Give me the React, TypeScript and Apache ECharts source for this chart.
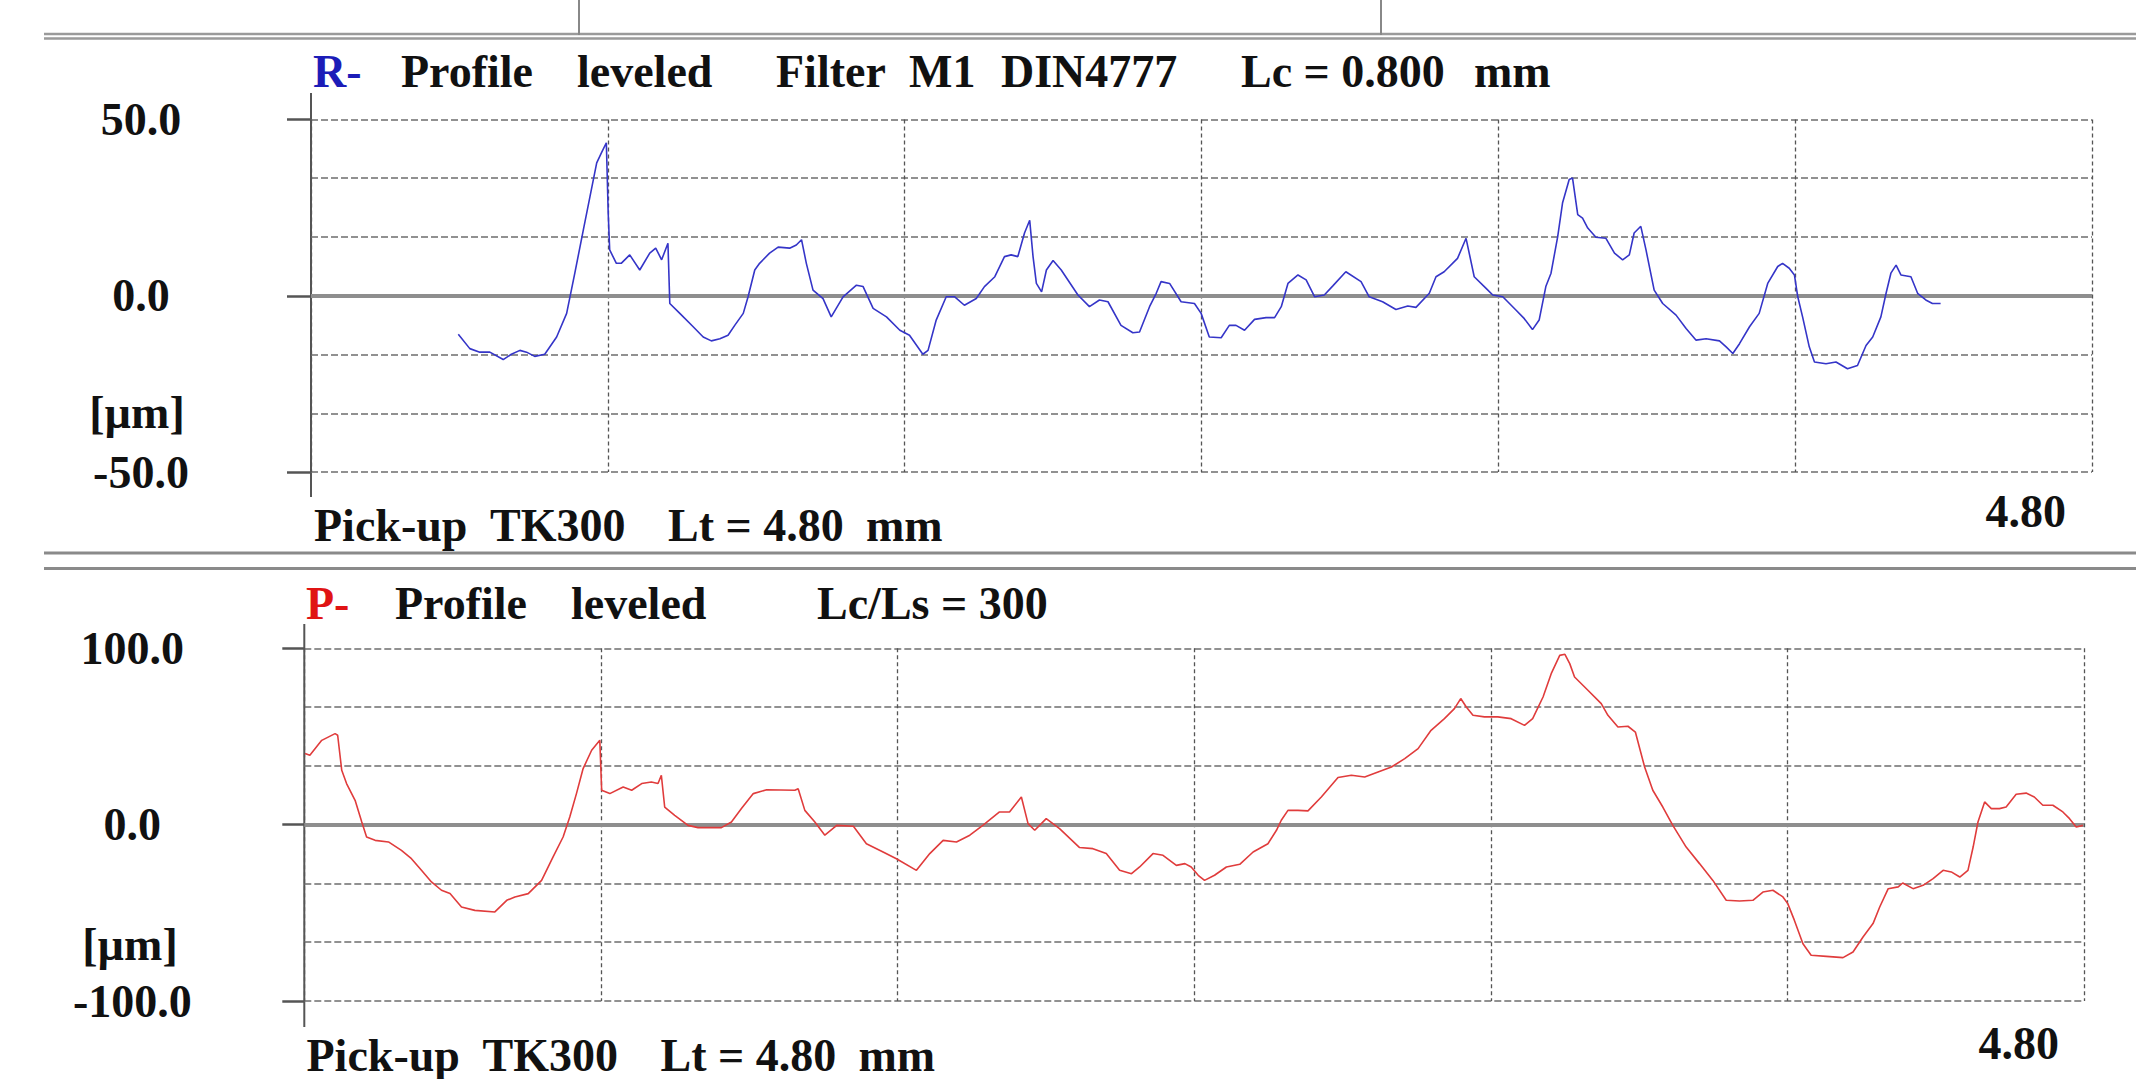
import React, { useEffect, useRef } from "react";
import * as echarts from "echarts";

// R-profile (roughness), x in mm, y in µm
const rX = [0.397,0.428,0.455,0.482,0.518,0.540,0.563,0.581,0.603,0.630,0.662,0.689,0.711,0.734,0.752,0.770,0.783,0.796,0.801,0.805,0.823,0.836,0.859,0.886,0.913,0.929,0.945,0.962,0.967,0.994,1.030,1.057,1.079,1.102,1.124,1.142,1.165,1.178,1.196,1.209,1.236,1.259,1.290,1.308,1.322,1.335,1.353,1.380,1.402,1.434,1.470,1.488,1.515,1.551,1.587,1.613,1.649,1.663,1.685,1.712,1.735,1.761,1.793,1.815,1.843,1.869,1.887,1.905,1.923,1.937,1.946,1.955,1.969,1.982,2.000,2.022,2.067,2.098,2.125,2.148,2.183,2.215,2.233,2.260,2.278,2.291,2.314,2.345,2.381,2.399,2.421,2.453,2.475,2.493,2.516,2.543,2.574,2.597,2.615,2.633,2.660,2.682,2.705,2.731,2.754,2.789,2.830,2.852,2.888,2.924,2.956,2.978,3.014,3.032,3.054,3.090,3.113,3.135,3.167,3.185,3.212,3.248,3.270,3.292,3.310,3.328,3.342,3.360,3.373,3.391,3.400,3.414,3.427,3.441,3.463,3.490,3.513,3.535,3.553,3.566,3.584,3.598,3.620,3.643,3.679,3.706,3.733,3.760,3.796,3.814,3.832,3.850,3.877,3.903,3.926,3.953,3.966,3.984,3.998,4.007,4.020,4.038,4.052,4.083,4.110,4.141,4.168,4.191,4.209,4.231,4.245,4.258,4.272,4.285,4.312,4.330,4.352,4.370,4.392];
const rY = [-10.9,-15.0,-16.0,-16.0,-18.1,-16.6,-15.5,-16.0,-17.2,-16.6,-11.7,-5.0,6.4,18.7,28.2,37.7,40.6,43.4,23.5,13.0,9.2,9.2,11.6,7.3,12.1,13.5,10.2,14.9,-2.2,-5.0,-8.8,-11.7,-12.8,-12.2,-11.2,-8.4,-5.0,-0.3,7.3,9.2,12.1,13.8,13.5,14.4,15.9,9.2,1.6,-0.8,-6.0,-0.3,3.0,2.6,-3.6,-6.0,-9.8,-11.2,-16.6,-15.5,-6.9,-0.3,-0.3,-2.7,-0.8,2.6,5.4,11.1,11.6,11.1,17.8,21.4,11.1,3.5,1.1,7.3,10.0,7.3,0.2,-3.1,-1.2,-1.7,-8.4,-10.5,-10.3,-3.1,0.7,4.0,3.5,-1.7,-2.2,-5.0,-11.7,-11.9,-8.4,-8.4,-9.8,-6.7,-6.2,-6.2,-3.1,3.5,5.9,4.5,-0.3,0.2,2.8,6.8,4.0,-0.3,-1.7,-3.9,-2.9,-3.3,0.7,5.4,6.8,10.6,16.3,5.4,2.1,0.2,-0.3,-4.1,-6.5,-9.6,-6.9,2.6,6.4,16.8,26.3,33.0,33.4,23.0,22.0,19.2,16.6,16.3,12.1,10.2,11.6,17.8,19.7,13.0,1.6,-2.2,-5.5,-9.3,-12.6,-12.2,-12.8,-14.5,-16.4,-13.6,-8.8,-5.0,3.5,8.3,9.2,7.8,5.9,-0.3,-6.0,-14.5,-18.8,-19.3,-18.8,-20.7,-19.8,-14.1,-11.7,-6.0,0.7,6.4,8.7,5.9,5.4,0.7,-1.2,-2.2,-2.2];

// P-profile (primary), x in mm, y in µm
const pX = [0.002,0.015,0.047,0.083,0.090,0.101,0.114,0.137,0.155,0.168,0.191,0.227,0.262,0.289,0.316,0.343,0.370,0.393,0.424,0.460,0.514,0.546,0.568,0.604,0.640,0.671,0.698,0.716,0.734,0.752,0.775,0.797,0.802,0.824,0.860,0.883,0.910,0.936,0.954,0.963,0.972,0.999,1.035,1.062,1.125,1.152,1.179,1.211,1.247,1.323,1.332,1.350,1.377,1.404,1.436,1.481,1.516,1.561,1.597,1.651,1.687,1.723,1.759,1.795,1.830,1.875,1.902,1.934,1.952,1.970,2.001,2.037,2.091,2.127,2.163,2.199,2.231,2.253,2.289,2.316,2.352,2.375,2.392,2.411,2.428,2.455,2.487,2.523,2.559,2.599,2.622,2.635,2.653,2.680,2.707,2.743,2.788,2.824,2.860,2.896,2.932,2.968,3.004,3.039,3.075,3.102,3.119,3.134,3.152,3.183,3.219,3.255,3.291,3.313,3.341,3.363,3.386,3.400,3.413,3.426,3.462,3.498,3.516,3.543,3.570,3.590,3.603,3.615,3.637,3.664,3.691,3.727,3.763,3.799,3.835,3.871,3.907,3.934,3.961,3.988,4.001,4.019,4.042,4.064,4.105,4.150,4.177,4.204,4.231,4.249,4.272,4.299,4.311,4.339,4.366,4.393,4.420,4.442,4.465,4.487,4.501,4.514,4.532,4.550,4.572,4.590,4.617,4.644,4.666,4.689,4.716,4.743,4.761,4.779,4.797];
const pY = [40.3,39.3,47.8,51.6,50.7,30.8,23.3,13.8,1.5,-7.0,-8.9,-9.8,-14.6,-19.3,-25.9,-32.5,-37.2,-39.1,-46.7,-48.6,-49.5,-42.9,-41.0,-39.1,-31.6,-18.3,-7.0,4.3,17.6,31.8,42.2,47.8,19.5,17.6,21.4,19.5,23.3,24.2,23.3,28.0,10.0,5.3,-0.4,-1.7,-1.7,1.5,9.1,17.6,19.8,19.5,20.4,8.1,1.5,-6.0,-0.4,-0.9,-10.8,-15.5,-19.3,-25.9,-16.4,-8.9,-9.8,-6.0,-0.4,7.2,7.2,15.7,0.6,-3.2,3.4,-2.3,-13.0,-13.6,-16.4,-25.9,-27.8,-24.0,-16.4,-17.4,-23.1,-22.1,-24.0,-28.7,-31.6,-28.7,-24.0,-22.5,-15.5,-10.8,-3.2,2.5,8.1,8.1,7.8,15.7,26.7,28.0,27.0,29.9,32.7,37.4,43.1,53.5,60.1,65.8,71.5,66.7,62.0,61.1,61.1,60.1,56.3,60.1,72.4,85.6,96.0,96.6,91.3,83.7,76.2,68.6,62.0,55.4,55.8,52.5,42.2,32.7,19.5,10.0,-0.4,-12.7,-22.1,-31.6,-42.9,-43.3,-42.9,-38.2,-37.2,-41.0,-44.8,-54.3,-67.5,-74.1,-74.7,-75.4,-72.2,-63.7,-56.1,-46.7,-36.3,-35.3,-33.1,-36.3,-34.4,-30.6,-25.9,-26.8,-29.7,-25.9,-12.7,1.5,12.9,9.1,9.1,10.0,17.2,17.9,15.7,11.0,11.0,7.2,3.4,-1.3,-0.4];

// axes
const xMin = 0, xMax = 4.8, xStep = 0.8;
const rRange = [-50, 50], rStep = 50;
const pRange = [-100, 100], pStep = 100;

// texts
const rTitle = [
  { t: "R-", x: 313, c: "#1c1cb8" },
  { t: "Profile", x: 401 },
  { t: "leveled", x: 577 },
  { t: "Filter", x: 776 },
  { t: "M1", x: 909 },
  { t: "DIN4777", x: 1001 },
  { t: "Lc = 0.800", x: 1241 },
  { t: "mm", x: 1474 },
];
const pTitle = [
  { t: "P-", x: 306, c: "#e01414" },
  { t: "Profile", x: 395 },
  { t: "leveled", x: 571 },
  { t: "Lc/Ls = 300", x: 817 },
];
const footer = [
  { t: "Pick-up", dx: 0 },
  { t: "TK300", dx: 176 },
  { t: "Lt = 4.80", dx: 354 },
  { t: "mm", dx: 552 },
];
const unitLabel = "[µm]";
const endLabel = "4.80";

const FONT = "'Liberation Serif', 'Times New Roman', serif";
const FS = 46;

function zip(xs: number[], ys: number[]) {
  return xs.map((x, i) => [x, ys[i]]);
}

function txt(text: string, x: number, y: number, fill = "#111", align = "left") {
  return {
    type: "text",
    x,
    y,
    silent: true,
    style: {
      text,
      fill,
      fontFamily: FONT,
      fontSize: FS,
      fontWeight: "bold",
      align,
      textAlign: align,
      verticalAlign: "middle",
      textVerticalAlign: "middle",
    },
  };
}

function ln(x1: number, y1: number, x2: number, y2: number, color: string, width: number) {
  return {
    type: "line",
    silent: true,
    shape: { x1, y1, x2, y2 },
    style: { stroke: color, lineWidth: width },
  };
}

export default function App() {
  const ref = useRef<HTMLDivElement>(null);
  useEffect(() => {
    const chart = echarts.init(ref.current!, null, { renderer: "svg" });

    const hSplit = { show: true, lineStyle: { color: "#6e6e6e", width: 1.5, type: [7, 3] } };
    const vSplit = { show: true, lineStyle: { color: "#555", width: 1.3, type: [4, 3] } };

    const yAxisBase = (range: number[], step: number, margin: number, tickLen: number) => ({
      type: "value",
      min: range[0],
      max: range[1],
      interval: step,
      axisLine: { show: false },
      axisTick: { show: true, length: tickLen, lineStyle: { color: "#555", width: 2.5 } },
      axisLabel: {
        show: true,
        formatter: (v: number) => v.toFixed(1),
        fontFamily: FONT,
        fontSize: FS,
        fontWeight: "bold",
        color: "#111",
        align: "center",
        margin,
      },
      splitLine: hSplit,
      minorTick: { show: false, splitNumber: 3 },
      minorSplitLine: hSplit,
    });

    const xAxisBase = (gi: number) => ({
      type: "value",
      gridIndex: gi,
      min: xMin,
      max: xMax,
      interval: xStep,
      axisLine: { show: false },
      axisTick: { show: false },
      axisLabel: { show: false },
      splitLine: vSplit,
    });

    const zeroLine = {
      silent: true,
      symbol: "none",
      z: 1,
      label: { show: false },
      lineStyle: { color: "#8e8e8e", width: 4, type: "solid" },
      data: [{ yAxis: 0 }],
    };

    const graphics: any[] = [];
    // top separators
    graphics.push(ln(44, 34, 2136, 34, "#9a9a9a", 2.5));
    graphics.push(ln(44, 38.5, 2136, 38.5, "#9a9a9a", 2.5));
    graphics.push(ln(579, 0, 579, 35, "#888", 2));
    graphics.push(ln(1381, 0, 1381, 35, "#888", 2));
    // middle separators
    graphics.push(ln(44, 553, 2136, 553, "#8a8a8a", 3));
    graphics.push(ln(44, 568.5, 2136, 568.5, "#8a8a8a", 3));
    // left axis lines (extended)
    graphics.push(ln(311, 93, 311, 497, "#555", 2));
    graphics.push(ln(304.3, 624, 304.3, 1027, "#555", 2));

    rTitle.forEach((w) => graphics.push(txt(w.t, w.x, 71, w.c || "#111")));
    pTitle.forEach((w) => graphics.push(txt(w.t, w.x, 603, w.c || "#111")));
    footer.forEach((w) => graphics.push(txt(w.t, 314 + w.dx, 525)));
    footer.forEach((w) => graphics.push(txt(w.t, 306.5 + w.dx, 1055)));
    graphics.push(txt(unitLabel, 137, 412, "#111", "center"));
    graphics.push(txt(unitLabel, 130, 944, "#111", "center"));
    graphics.push(txt(endLabel, 2066, 511, "#111", "right"));
    graphics.push(txt(endLabel, 2059, 1043, "#111", "right"));

    chart.setOption({
      animation: false,
      backgroundColor: "#ffffff",
      grid: [
        { left: 311, top: 119.5, width: 1781, height: 352.5 },
        { left: 304.3, top: 648.3, width: 1779.7, height: 352.7 },
      ],
      xAxis: [xAxisBase(0), xAxisBase(1)],
      yAxis: [
        { ...yAxisBase(rRange, rStep, 170, 24), gridIndex: 0 },
        { ...yAxisBase(pRange, pStep, 172, 22), gridIndex: 1 },
      ],
      series: [
        {
          name: "R-Profile",
          type: "line",
          xAxisIndex: 0,
          yAxisIndex: 0,
          data: zip(rX, rY),
          showSymbol: false,
          symbol: "none",
          z: 3,
          lineStyle: { color: "#3535c8", width: 1.6 },
          markLine: zeroLine,
        },
        {
          name: "P-Profile",
          type: "line",
          xAxisIndex: 1,
          yAxisIndex: 1,
          data: zip(pX, pY),
          showSymbol: false,
          symbol: "none",
          z: 3,
          lineStyle: { color: "#e03c3c", width: 1.6 },
          markLine: zeroLine,
        },
      ],
      graphic: graphics,
    });

    return () => chart.dispose();
  }, []);

  return (
    <div
      ref={ref}
      style={{ position: "fixed", left: 0, top: 0, width: 2136, height: 1079, background: "#fff" }}
    />
  );
}
